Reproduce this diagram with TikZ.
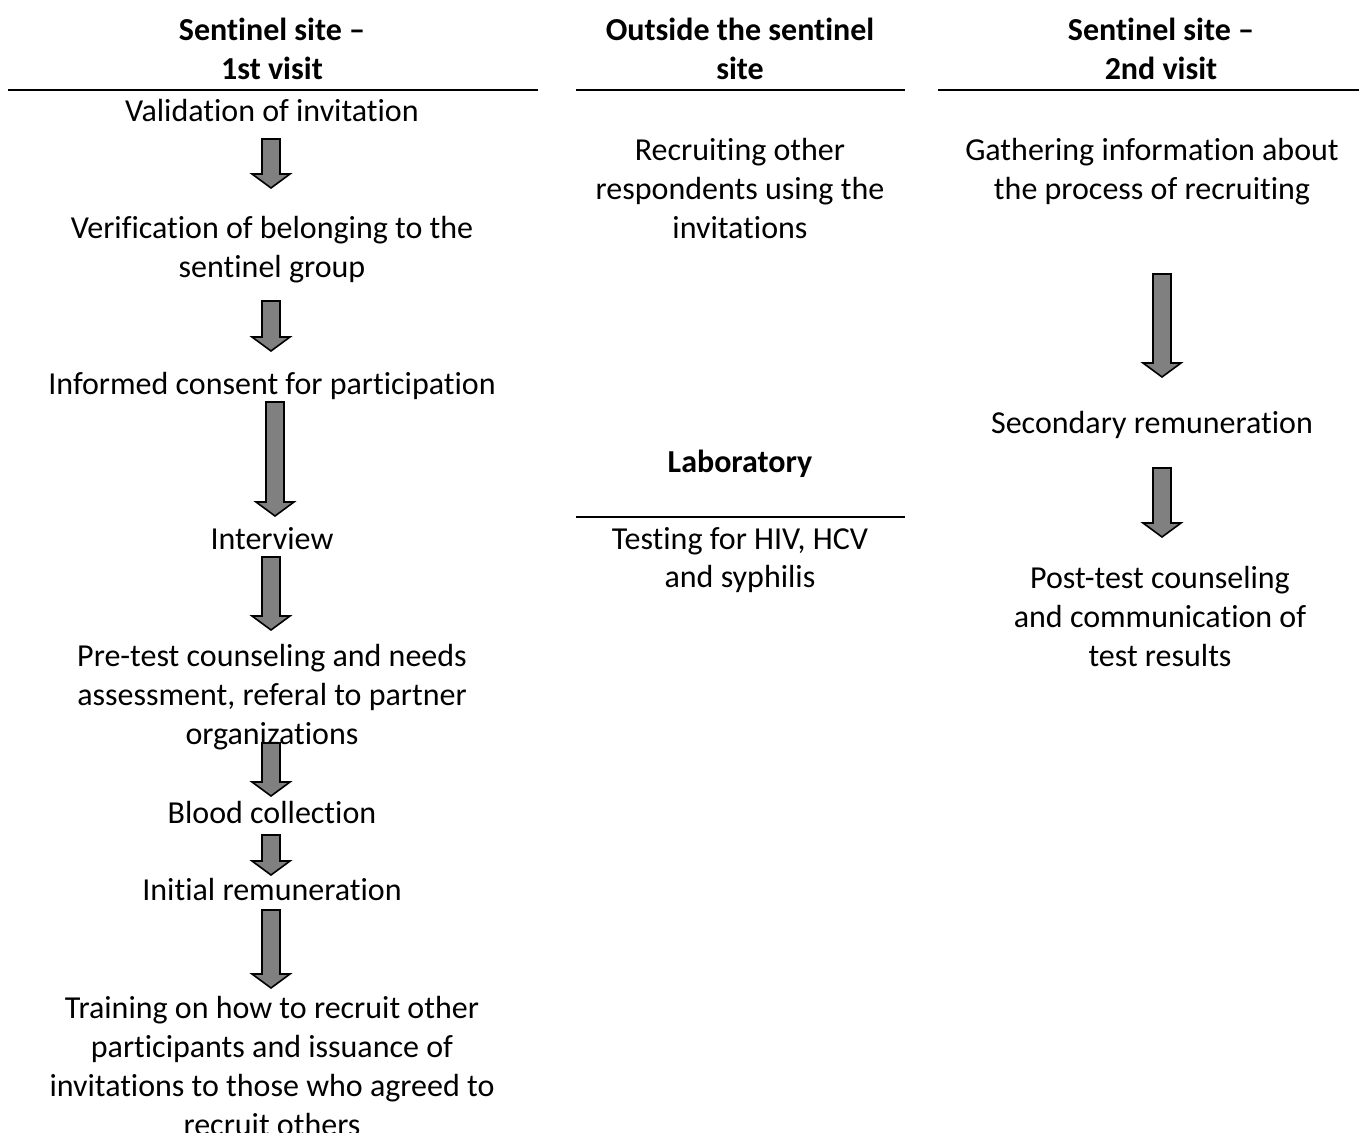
\documentclass[tikz,border=0pt]{standalone}
\usepackage{fontspec}
\setmainfont{Carlito}[Ligatures=NoCommon]
\begin{document}
\begin{tikzpicture}[x=0.5pt,y=-0.5pt,
  txt/.style={anchor=base,align=center,inner sep=0pt,font=\fontsize{16}{19.5}\selectfont},
  hdr/.style={txt,font=\fontsize{16}{19.5}\selectfont\bfseries},
  rule/.style={line width=1pt},
  barrow/.style={draw=black,line width=0.8pt,fill=gray,line join=miter}]
\useasboundingbox (0,0) rectangle (1359,1133);
\newcommand{\blockarrow}[4]{% x, top, tip, name
  \draw[barrow] (#1-9,#2) coordinate (#4) -- (#1+9,#2) -- (#1+9,#3-14) -- (#1+19,#3-14) -- (#1,#3) -- (#1-19,#3-14) -- (#1-9,#3-14) -- cycle;}
% headers (anchor = baseline of last line)
\node[hdr] (h1) at (272,80) {Sentinel site --\\1st visit};
\node[hdr] (h2) at (740,80) {Outside the sentinel\\site};
\node[hdr] (h3) at (1161,80) {Sentinel site --\\2nd visit};
\draw[rule] (8,90) -- (538,90);
\draw[rule] (576,90) -- (905,90);
\draw[rule] (938,90) -- (1359,90);
% column 1
\node[txt] (c1a) at (272,122) {Validation of invitation};
\node[txt] (c1b) at (272,278) {Verification of belonging to the\\sentinel group};
\node[txt] (c1c) at (272,395) {Informed consent for participation};
\node[txt] (c1d) at (272,549) {Interview};
\node[txt] (c1e) at (272,744) {Pre-test counseling and needs\\assessment, referal to partner\\organizations};
\node[txt] (c1f) at (272,823) {Blood collection};
\node[txt] (c1g) at (272,900) {Initial remuneration};
\node[txt] (c1h) at (272,1135) {Training on how to recruit other\\participants and issuance of\\invitations to those who agreed to\\recruit others};
\blockarrow{271}{139}{188}{a1}
\blockarrow{271}{301}{351}{a2}
\blockarrow{275}{402}{516}{a3}
\blockarrow{271}{557}{630}{a4}
\blockarrow{271}{743}{796}{a5}
\blockarrow{271}{835}{875}{a6}
\blockarrow{271}{910}{988}{a7}
% column 2
\node[txt] (c2a) at (740,239) {Recruiting other\\respondents using the\\invitations};
\node[hdr] (lab) at (740,473) {Laboratory};
\draw[rule] (576,517) -- (905,517);
\node[txt] (c2b) at (740,588) {Testing for HIV, HCV\\and syphilis};
% column 3
\node[txt] (c3a) at (1152,200) {Gathering information about\\the process of recruiting};
\node[txt] (c3b) at (1152,434) {Secondary remuneration};
\node[txt] (c3c) at (1160,666) {Post-test counseling\\and communication of\\test results};
\blockarrow{1162}{274}{377}{a8}
\blockarrow{1162}{468}{537}{a9}
\end{tikzpicture}
\end{document}
